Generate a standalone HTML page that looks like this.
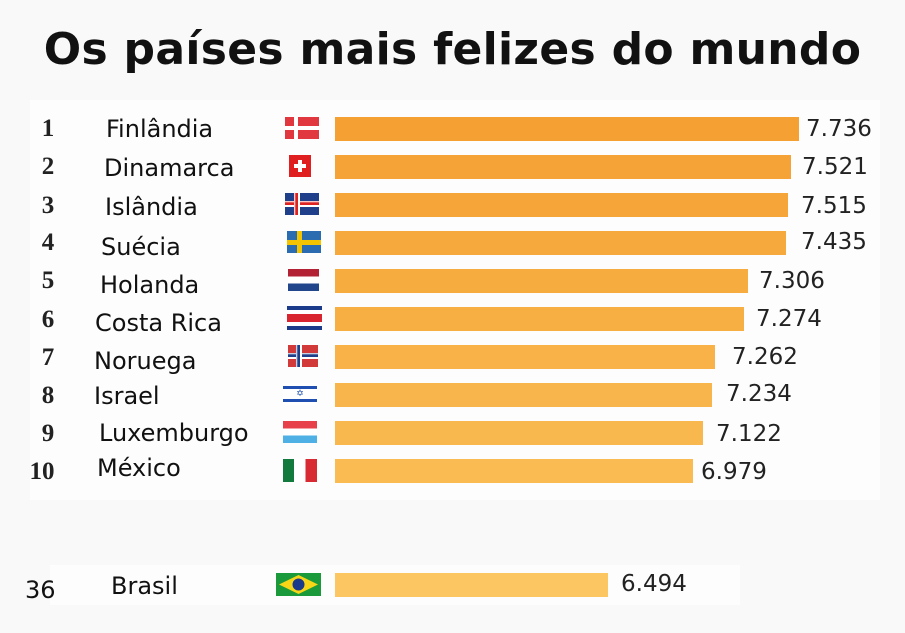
<!DOCTYPE html>
<html><head><meta charset="utf-8"><style>
body{margin:0;width:905px;height:633px;background:#f9f9f9;position:relative;overflow:hidden;font-family:"DejaVu Sans","Liberation Sans",sans-serif}
.t{position:absolute;left:0;width:905px;top:24px;text-align:center;font-weight:bold;font-size:44px;color:#111;letter-spacing:0.3px}
.n{position:absolute;font-family:"Liberation Serif",serif;font-weight:bold;font-size:25px;color:#222;width:40px;text-align:center}
.l{position:absolute;font-size:24px;color:#111;padding:0 4px}
.b{position:absolute;left:335px;height:24px}
.v{position:absolute;font-size:23px;color:#222;padding:0 3px}
.f{position:absolute;width:34px;height:22px}
</style></head><body>
<div class="t">Os países mais felizes do mundo</div>
<div style="position:absolute;left:30px;top:100px;width:850px;height:400px;background:#fdfdfd"></div>
<div style="position:absolute;left:50px;top:565px;width:690px;height:40px;background:#fdfdfd"></div>

<div class="n" style="left:28px;top:115px">1</div><div class="l" style="left:102px;top:115px">Finlândia</div>
<div class="n" style="left:28px;top:153px">2</div><div class="l" style="left:100px;top:154px">Dinamarca</div>
<div class="n" style="left:28px;top:192px">3</div><div class="l" style="left:101px;top:193px">Islândia</div>
<div class="n" style="left:28px;top:229px">4</div><div class="l" style="left:97px;top:233px">Suécia</div>
<div class="n" style="left:28px;top:267px">5</div><div class="l" style="left:96px;top:271px">Holanda</div>
<div class="n" style="left:28px;top:306px">6</div><div class="l" style="left:91px;top:309px">Costa Rica</div>
<div class="n" style="left:28px;top:344px">7</div><div class="l" style="left:90px;top:347px">Noruega</div>
<div class="n" style="left:28px;top:382px">8</div><div class="l" style="left:90px;top:382px">Israel</div>
<div class="n" style="left:28px;top:420px">9</div><div class="l" style="left:95px;top:419px">Luxemburgo</div>
<div class="n" style="left:22px;top:458px">10</div><div class="l" style="left:93px;top:454px">México</div>
<div style="position:absolute;left:25px;top:576px;font-size:24px;color:#111">36</div><div class="l" style="left:107px;top:572px">Brasil</div>

<!-- flags -->
<div class="f" style="left:285px;top:117px;background:linear-gradient(90deg,transparent 9px,#fff 9px,#fff 13px,transparent 13px),linear-gradient(#e0383e 9px,#fff 9px,#fff 13px,#e0383e 13px)"></div>
<div class="f" style="left:289px;top:155px;width:22px;background:#e02020"><div style="position:absolute;left:9px;top:5px;width:4px;height:12px;background:#fff"></div><div style="position:absolute;left:5px;top:9px;width:12px;height:4px;background:#fff"></div></div>
<div class="f" style="left:285px;top:193px;background:linear-gradient(90deg,transparent 9px,#fff 9px,#d22 11px,#d22 13px,#fff 13px,#fff 15px,transparent 15px),linear-gradient(#1f3f8a 8px,#fff 8px,#d22 10px,#d22 12px,#fff 12px,#fff 14px,#1f3f8a 14px)"></div>
<div class="f" style="left:287px;top:231px;background:linear-gradient(90deg,transparent 10px,#f5c400 10px,#f5c400 15px,transparent 15px),linear-gradient(#2b6cb0 9px,#f5c400 9px,#f5c400 14px,#2b6cb0 14px)"></div>
<div class="f" style="left:288px;top:269px;width:31px;background:linear-gradient(#b22234 33%,#fff 33%,#fff 66%,#21468b 66%)"></div>
<div class="f" style="left:287px;top:306px;width:35px;height:24px;background:linear-gradient(#1b3b8a 4px,#fff 4px,#fff 8px,#d8252f 8px,#d8252f 16px,#fff 16px,#fff 20px,#1b3b8a 20px)"></div>
<div class="f" style="left:288px;top:345px;width:30px;background:linear-gradient(90deg,transparent 8px,#fff 8px,#1f3f8a 10px,#1f3f8a 12px,#fff 12px,#fff 14px,transparent 14px),linear-gradient(#d23a3a 8px,#fff 8px,#1f3f8a 10px,#1f3f8a 12px,#fff 12px,#fff 14px,#d23a3a 14px)"></div>
<div class="f" style="left:283px;top:383px;width:34px;background:linear-gradient(#fff 3px,#1f4fb0 3px,#1f4fb0 6px,#fff 6px,#fff 16px,#1f4fb0 16px,#1f4fb0 19px,#fff 19px);font-size:9px;color:#1f4fb0;text-align:center;line-height:22px">✡</div>
<div class="f" style="left:283px;top:421px;width:34px;background:linear-gradient(#e8404a 33%,#fff 33%,#fff 66%,#4fb0e6 66%)"></div>
<div class="f" style="left:283px;top:459px;width:34px;height:23px;background:linear-gradient(90deg,#127a3c 33%,#fff 33%,#fff 66%,#d82a32 66%)"></div>
<svg width="45" height="23" style="position:absolute;left:276px;top:573px"><rect width="45" height="23" fill="#1a9a3a"/><polygon points="22.5,2 42,11.5 22.5,21 3,11.5" fill="#f7d618"/><circle cx="22.5" cy="11.5" r="6" fill="#1c3a8a"/></svg>

<!-- bars -->
<div class="b" style="top:117px;width:464px;background:#f5a033"></div>
<div class="b" style="top:155px;width:456px;background:#f5a336"></div>
<div class="b" style="top:193px;width:453px;background:#f6a639"></div>
<div class="b" style="top:231px;width:451px;background:#f6a93c"></div>
<div class="b" style="top:269px;width:413px;background:#f7ac40"></div>
<div class="b" style="top:307px;width:409px;background:#f7af44"></div>
<div class="b" style="top:345px;width:380px;background:#f8b247"></div>
<div class="b" style="top:383px;width:377px;background:#f8b54b"></div>
<div class="b" style="top:421px;width:368px;background:#f9b84e"></div>
<div class="b" style="top:459px;width:358px;background:#f9bb52"></div>
<div class="b" style="top:573px;width:273px;background:#fcc762"></div>

<div class="v" style="left:803px;top:116px">7.736</div>
<div class="v" style="left:799px;top:154px">7.521</div>
<div class="v" style="left:798px;top:193px">7.515</div>
<div class="v" style="left:798px;top:229px">7.435</div>
<div class="v" style="left:756px;top:268px">7.306</div>
<div class="v" style="left:753px;top:306px">7.274</div>
<div class="v" style="left:729px;top:344px">7.262</div>
<div class="v" style="left:723px;top:381px">7.234</div>
<div class="v" style="left:713px;top:421px">7.122</div>
<div class="v" style="left:698px;top:459px">6.979</div>
<div class="v" style="left:618px;top:571px">6.494</div>
</body></html>
